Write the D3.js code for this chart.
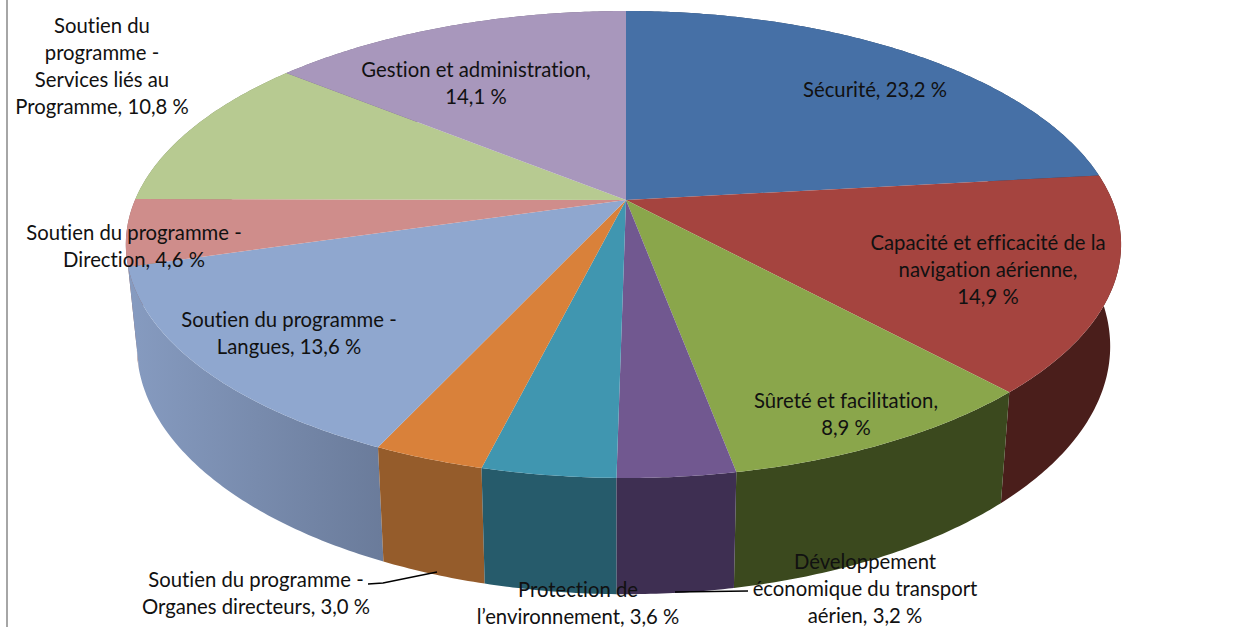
<!DOCTYPE html>
<html>
<head>
<meta charset="utf-8">
<script src="https://d3js.org/d3.v7.min.js"></script>
<style>
  html, body { margin: 0; padding: 0; background: #fff; overflow: hidden; }
  text { font-family: Lato, "Open Sans", sans-serif; font-size: 20.3px; fill: #111; font-variant-ligatures: none; }
</style>
</head>
<body>
<div id="chart"></div>
<script>
const categories = [
  'Sécurité',
  'Capacité et efficacité de la navigation aérienne',
  'Sûreté et facilitation',
  'Développement économique du transport aérien',
  'Protection de l’environnement',
  'Soutien du programme - Organes directeurs',
  'Soutien du programme - Langues',
  'Soutien du programme - Direction',
  'Soutien du programme - Services liés au Programme',
  'Gestion et administration'
];
const values = [23.2, 14.9, 8.9, 3.2, 3.6, 3.0, 13.6, 4.6, 10.8, 14.1];
const topColors = ['#4670a6', '#a5443f', '#8aa64b', '#715890', '#4096b0', '#d9813a', '#8fa7cf', '#cf8d8b', '#b7ca91', '#a897bc'];
const sideColors = ['#2b4464', '#4a1e1b', '#3b491e', '#3e2f52', '#265b6b', '#955c2b', '#7487a8', '#8c5f5e', '#7c8962', '#71667f'];
const labelLines = [
  ['Sécurité, 23,2 %'],
  ['Capacité et efficacité de la', 'navigation aérienne,', '14,9 %'],
  ['Sûreté et facilitation,', '8,9 %'],
  ['Développement', 'économique du transport', 'aérien, 3,2 %'],
  ['Protection de', 'l’environnement, 3,6 %'],
  ['Soutien du programme -', 'Organes directeurs, 3,0 %'],
  ['Soutien du programme -', 'Langues, 13,6 %'],
  ['Soutien du programme -', 'Direction, 4,6 %'],
  ['Soutien du', 'programme -', 'Services liés au', 'Programme, 10,8 %'],
  ['Gestion et administration,', '14,1 %']
];

const width = 1249;
const height = 627;
const lineHeight = 27;

// centre line of each label block, first baseline
const labelPos = [
  [875, 97], [988, 250], [846, 408], [865, 569], [578, 597],
  [256, 587], [289, 327], [134, 240], [102, 33], [476, 77]
];
// leader lines
const leaders = [
  [[368, 584], [383, 583], [437, 572]],
  [[675, 592], [748, 591]]
];

// perspective projection of the unit disc, left half a little wider than the right
const cx = 626, cy = 200;
const A = 486, leftA = 491, B = 225, k = 0.1906;
const bottomScale = 0.978, depth = 99;

function project(angle, r, low) {
  const u = r * Math.sin(angle);
  const f = -r * Math.cos(angle);
  const w = 1 - k * f;
  const s = low ? bottomScale : 1;
  return [cx + s * (u < 0 ? leftA : A) * u / w, cy + s * B * f / w + (low ? depth / w : 0)];
}

function arcPoints(a0, a1, low) {
  const n = Math.max(2, Math.ceil((a1 - a0) / 0.01));
  return d3.range(n + 1).map(i => project(a0 + (a1 - a0) * i / n, 1, low));
}

const pie = d3.pie().sort(null).value(d => d)(values);
const topColor = d3.scaleOrdinal().domain(categories).range(topColors);
const sideColor = d3.scaleOrdinal().domain(categories).range(sideColors);
const line = d3.line();

const svg = d3.select('#chart').append('svg')
  .attr('width', width)
  .attr('height', height);

// left border of the frame
svg.append('rect')
  .attr('x', 6).attr('y', 0)
  .attr('width', 2).attr('height', height)
  .attr('fill', '#a6a6a6');

// side gradient on the big light blue wall
const defs = svg.append('defs');
const grad = defs.append('linearGradient')
  .attr('id', 'wallLangues')
  .attr('gradientUnits', 'userSpaceOnUse')
  .attr('x1', 130).attr('x2', 385).attr('y1', 0).attr('y2', 0);
grad.append('stop').attr('offset', 0).attr('stop-color', '#869bc0');
grad.append('stop').attr('offset', 1).attr('stop-color', '#6a7b9a');

// walls first, back to front
const walls = pie.slice().sort((a, b) =>
  d3.ascending(-Math.cos((a.startAngle + a.endAngle) / 2), -Math.cos((b.startAngle + b.endAngle) / 2)));

svg.append('g').selectAll('path')
  .data(walls)
  .enter()
  .append('path')
  .attr('d', d => line(arcPoints(d.startAngle, d.endAngle, false)
    .concat(arcPoints(d.startAngle, d.endAngle, true).reverse())) + 'Z')
  .attr('fill', d => d.index === 6 ? 'url(#wallLangues)' : sideColor(categories[d.index]));

// top face
svg.append('g').selectAll('path')
  .data(pie)
  .enter()
  .append('path')
  .attr('d', d => line([[cx, cy]].concat(arcPoints(d.startAngle, d.endAngle, false))) + 'Z')
  .attr('fill', d => topColor(categories[d.index]));

// leader lines
svg.append('g').selectAll('path')
  .data(leaders)
  .enter()
  .append('path')
  .attr('d', d => line(d))
  .attr('fill', 'none')
  .attr('stroke', '#000')
  .attr('stroke-width', 1.3);

// labels
const labels = svg.append('g').selectAll('text')
  .data(labelLines)
  .enter()
  .append('text')
  .attr('text-anchor', 'middle')
  .attr('transform', (d, i) => `translate(${labelPos[i][0]},${labelPos[i][1]})`);

labels.selectAll('tspan')
  .data(d => d)
  .enter()
  .append('tspan')
  .attr('x', 0)
  .attr('y', (d, i) => i * lineHeight)
  .text(d => d);
</script>
</body>
</html>
